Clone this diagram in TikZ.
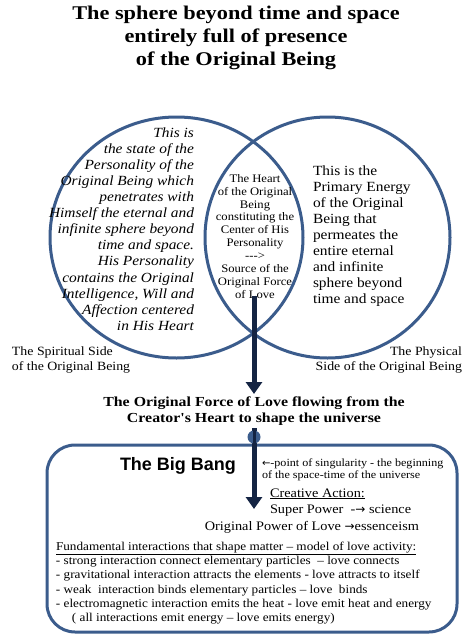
\documentclass[tikz,border=0pt]{standalone}
\usepackage{fontspec}
\setmainfont{Liberation Serif}
\newfontfamily\cam[FakeStretch=1.1]{Liberation Serif}
\newfontfamily\geo[FakeStretch=1.15]{Liberation Serif}
\newfontfamily\arial{Liberation Sans}
\newfontfamily\dv{DejaVu Sans}
\usetikzlibrary{arrows.meta}
\definecolor{ringblue}{HTML}{3B5C8C}
\definecolor{arrowcore}{HTML}{142443}
\begin{document}
\begin{tikzpicture}[x=1pt,y=-1pt,
  txt/.style={inner sep=0pt, outer sep=0pt},
  ring/.style={draw=ringblue, line width=3pt},
  flow/.style={draw=arrowcore, line width=5pt, -{Triangle[length=12pt,width=16pt]}}]
\useasboundingbox (0,0) rectangle (472,643);
% title
\node[txt, anchor=north, align=center, font={\geo\bfseries\fontsize{19.4}{23}\selectfont}] (title) at (236,5.8)
  {The sphere beyond time and space\\entirely full of presence\\of the Original Being};
% circles
\draw[ring] (176.5,237.5) ellipse [x radius=126.5, y radius=120.5];
\draw[ring] (327.5,237.5) ellipse [x radius=122.5, y radius=120.5];
% left text
\node[txt, anchor=north east, align=right, font={\cam\itshape\fontsize{14}{16.1}\selectfont}] (left) at (194,127.4)
  {This is\\the state of the\\Personality of the\\Original Being which\\penetrates with\\Himself the eternal and\\infinite sphere beyond\\time and space.\\His Personality\\contains the Original\\Intelligence, Will and\\Affection centered\\in His Heart};
% lens text
\node[txt, anchor=north, align=center, font={\cam\fontsize{11.5}{12.85}\selectfont}] (lens) at (255,174.4)
  {The Heart\\of the Original\\Being\\constituting the\\Center of His\\Personality\\{-}{-}{-}>\\Source of the\\Original Force\\of Love};
% right text
\node[txt, anchor=north west, align=left, font={\cam\fontsize{14}{16}\selectfont}] (right) at (313,166)
  {This is the\\Primary Energy\\of the Original\\Being that\\permeates the\\entire eternal\\and infinite\\sphere beyond\\time and space};
% side labels
\node[txt, anchor=north west, align=left, font={\cam\fontsize{12.6}{15}\selectfont}] (spirit) at (12,346.7)
  {The Spiritual Side\\of the Original Being};
\node[txt, anchor=north east, align=right, font={\cam\fontsize{12.6}{15}\selectfont}] (phys) at (462,346.7)
  {The Physical\\Side of the Original Being};
% arrow 1
\coordinate (a1s) at (254,296);
\coordinate (a1e) at (254,394);
\draw[flow] (a1s) -- (a1e);
% middle text
\node[txt, anchor=north, align=center, font={\geo\bfseries\fontsize{13.8}{16}\selectfont}] (force) at (254,397)
  {The Original Force of Love flowing from the\\Creator's Heart to shape the universe};
% box
\draw[ring, rounded corners=28pt] (47,445) rectangle (457,632);
% arrow 2
\coordinate (a2s) at (254,428);
\coordinate (a2e) at (254,509);
\draw[flow] (a2s) -- (a2e);
\fill[ringblue] (254,437) circle (6.5);
\draw[arrowcore, line width=3pt] (254,430) -- (254,444);
% big bang
\node[txt, anchor=base west, font={\arial\bfseries\fontsize{18}{20}\selectfont}] (bang) at (120,470.5) {The Big Bang};
\node[txt, anchor=north west, align=left, font={\cam\fontsize{11}{12}\selectfont}] (sing) at (262,459)
  {{\dv\fontsize{10}{12}\selectfont ←}-point of singularity - the beginning\\of the space-time of the universe};
\node[txt, anchor=base west, font={\cam\fontsize{13}{15}\selectfont}] (ca) at (270,497) {\underline{Creative Action:}};
\node[txt, anchor=base west, font={\cam\fontsize{13}{15}\selectfont}] (sp) at (270,513.5) {Super Power\ \ -{\dv\fontsize{12}{15}\selectfont →} science};
\node[txt, anchor=base east, font={\cam\fontsize{13}{15}\selectfont}] (op) at (419,530) {Original Power of Love {\dv\fontsize{12}{15}\selectfont →}essenceism};
% bottom text
\node[txt, anchor=north west, align=left, font={\cam\fontsize{12}{14.3}\selectfont}] (fund) at (56,541.8)
  {\underline{Fundamental interactions that shape matter – model of love activity:}\\
   - strong interaction connect elementary particles\ \ – love connects\\
   - gravitational interaction attracts the elements - love attracts to itself\\
   - weak\ \ interaction binds elementary particles – love\ \ binds\\
   - electromagnetic interaction emits the heat - love emit heat and energy\\
   \hspace*{16pt}( all interactions emit energy – love emits energy)};
\end{tikzpicture}
\end{document}
